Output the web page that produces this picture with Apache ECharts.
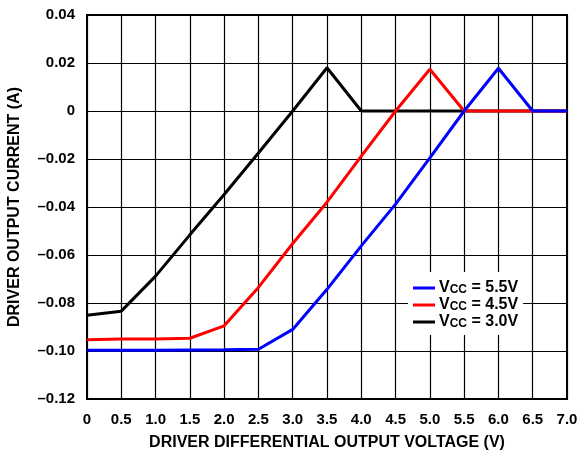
<!DOCTYPE html>
<html><head><meta charset="utf-8">
<script src="https://cdn.jsdelivr.net/npm/echarts@6/dist/echarts.min.js"></script>
<style>html,body{margin:0;padding:0;background:#fff}#c{width:580px;height:457px}</style>
</head><body><div id="c"></div>
<script>
const xValues = [0, 0.5, 1.0, 1.5, 2.0, 2.5, 3.0, 3.5, 4.0, 4.5, 5.0, 5.5, 6.0, 6.5, 7.0];
const vcc55 = [-0.0997, -0.0997, -0.0997, -0.0996, -0.0995, -0.0993, -0.0910, -0.0743, -0.0562, -0.0388, -0.0195, 0, 0.0178, 0, 0];
const vcc45 = [-0.0953, -0.0950, -0.0950, -0.0947, -0.0895, -0.0735, -0.0552, -0.0380, -0.0188, 0, 0.0174, 0, 0, 0, 0];
const vcc30 = [-0.0851, -0.0834, -0.0688, -0.0516, -0.0348, -0.0175, 0, 0.0180, 0, 0, 0, 0, 0, 0, 0];
const seriesNames = ['5.5V', '4.5V', '3.0V'];
const yTicks = [-0.12, -0.10, -0.08, -0.06, -0.04, -0.02, 0, 0.02, 0.04];

const chart = echarts.init(document.getElementById('c'));
const font = 'Liberation Sans, Arial, sans-serif';
const pairs = arr => xValues.map((x, i) => [x, arr[i]]);
const nameOf = n => 'VCC = ' + n;
chart.setOption({
  animation: false,
  grid: { left: 87, right: 13, top: 15, bottom: 58, show: true, borderColor: '#000', borderWidth: 2,
    containLabel: false, outerBoundsMode: 'none' },
  xAxis: {
    type: 'value', min: 0, max: 7, interval: 0.5,
    name: 'DRIVER DIFFERENTIAL OUTPUT VOLTAGE (V)', nameLocation: 'middle', nameGap: 36,
    nameTextStyle: { fontFamily: font, fontWeight: 'bold', fontSize: 16, color: '#000' },
    axisLine: { show: false }, axisTick: { show: false },
    axisLabel: { fontFamily: font, fontWeight: 'bold', fontSize: 15, color: '#000', margin: 13,
      formatter: v => v === 0 ? '0' : v.toFixed(1) },
    splitLine: { show: true, lineStyle: { color: '#000', width: 1.2 } }
  },
  yAxis: {
    type: 'value', min: -0.12, max: 0.04, interval: 0.02,
    name: 'DRIVER OUTPUT CURRENT (A)', nameLocation: 'middle', nameGap: 64,
    nameTextStyle: { fontFamily: font, fontWeight: 'bold', fontSize: 16, color: '#000' },
    axisLine: { show: false }, axisTick: { show: false },
    axisLabel: { fontFamily: font, fontWeight: 'bold', fontSize: 15, color: '#000', margin: 12,
      formatter: v => { const t = yTicks.find(k => Math.abs(k - v) < 1e-9); const val = t === undefined ? v : t;
        if (Math.abs(val) < 1e-9) return '0'; return (val < 0 ? '\u2013' : '') + Math.abs(val).toFixed(2); } },
    splitLine: { show: true, lineStyle: { color: '#000', width: 1.2 } }
  },
  legend: {
    left: 408, top: 272, orient: 'vertical', itemGap: 1, itemWidth: 22, itemHeight: 3,
    backgroundColor: '#fff', padding: [8, 5, 5, 5],
    icon: 'rect',
    data: seriesNames.map(nameOf),
    formatter: n => '{v|V}{s|CC}{v| = ' + n.replace('VCC = ', '') + '}',
    textStyle: { padding: [0, 0, 0, -1], rich: {
      v: { fontFamily: font, fontWeight: 'bold', fontSize: 16, lineHeight: 16, color: '#000' },
      s: { fontFamily: font, fontWeight: 'bold', fontSize: 12, lineHeight: 6, color: '#000', verticalAlign: 'bottom' }
    } }
  },
  series: [
    { name: nameOf('3.0V'), type: 'line', data: pairs(vcc30), symbol: 'none', z: 2, lineStyle: { color: '#000', width: 3 }, itemStyle: { color: '#000' } },
    { name: nameOf('4.5V'), type: 'line', data: pairs(vcc45), symbol: 'none', z: 3, lineStyle: { color: '#ff0000', width: 3 }, itemStyle: { color: '#ff0000' } },
    { name: nameOf('5.5V'), type: 'line', data: pairs(vcc55), symbol: 'none', z: 4, lineStyle: { color: '#0000ff', width: 3 }, itemStyle: { color: '#0000ff' } }
  ]
});
</script></body></html>
